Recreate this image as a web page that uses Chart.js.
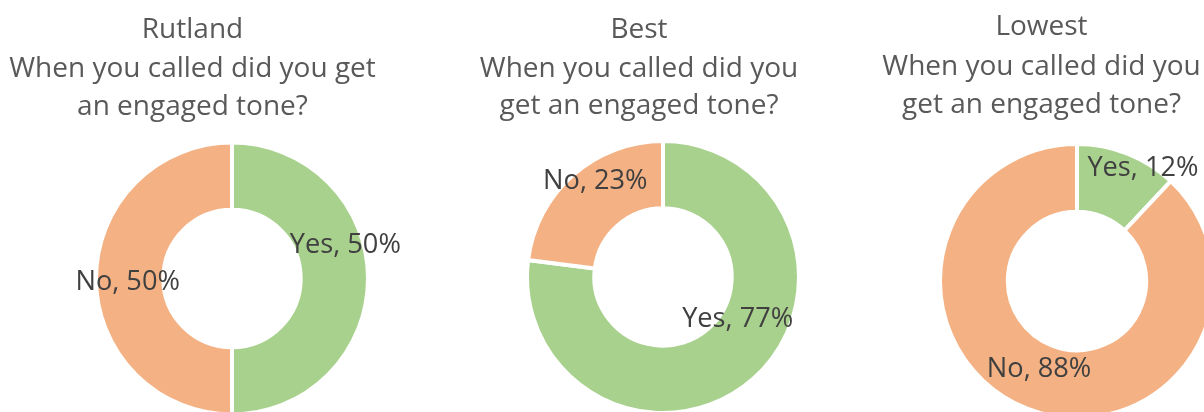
<!DOCTYPE html>
<html>
<head>
<meta charset="utf-8">
<script src="https://cdn.jsdelivr.net/npm/chart.js@4/dist/chart.umd.min.js"></script>
<style>
    html, body { margin: 0; padding: 0; background: #ffffff; }
    body { width: 1204px; height: 412px; overflow: hidden; position: relative; }
    .caja { position: absolute; top: 0; }
</style>
</head>
<body>
<div class="caja" style="left:0px"><canvas id="graficaRutland" width="440" height="417"></canvas></div>
<div class="caja" style="left:443px"><canvas id="graficaBest" width="440" height="415"></canvas></div>
<div class="caja" style="left:857px"><canvas id="graficaLowest" width="440" height="420"></canvas></div>
<script>
/* ===== DATOS ===== */
const categorias = ['Yes', 'No'];
const valoresRutland = [50, 50];
const valoresBest = [77, 23];
const valoresLowest = [12, 88];

const tituloRutland = ['Rutland', 'When you called did you get', 'an engaged tone?'];
const tituloBest = ['Best', 'When you called did you', 'get an engaged tone?'];
const tituloLowest = ['Lowest', 'When you called did you', 'get an engaged tone?'];

/* ===== ESTILOS ===== */
const coloresSegmentos = ['#a9d18e', '#f4b183'];
const fuente = '"Open Sans", Lato, sans-serif';
const tamTitulo = 28;
const tamEtiqueta = 27.2;

// desplazamiento de cada etiqueta respecto al centro del segmento
const ajusteRutland = [[11, -25.5], [-2, 11.5]];
const ajusteBest = [[7, -27], [0, -11]];
const ajusteLowest = [[28, -9], [0, 0.5]];

// titulo dibujado a mano: desplazamiento horizontal y lineas base
const pluginTitulo = {
    id: 'tituloDona',
    afterDraw(chart, args, opts) {
        const ctx = chart.ctx;
        const area = chart.chartArea;
        const x = (area.left + area.right) / 2 + opts.dx;
        ctx.save();
        ctx.font = tamTitulo + 'px ' + fuente;
        ctx.fillStyle = '#595959';
        ctx.textAlign = 'center';
        ctx.textBaseline = 'alphabetic';
        opts.lineas.forEach((linea, i) => ctx.fillText(linea, x, opts.bases[i]));
        ctx.restore();
    }
};

const pluginEtiquetas = {
    id: 'etiquetasDona',
    afterDatasetsDraw(chart, args, opts) {
        const ctx = chart.ctx;
        const meta = chart.getDatasetMeta(0);
        const valores = chart.data.datasets[0].data;
        ctx.save();
        ctx.font = tamEtiqueta + 'px ' + fuente;
        ctx.fillStyle = '#404040';
        ctx.textAlign = 'center';
        ctx.textBaseline = 'alphabetic';
        meta.data.forEach((arco, i) => {
            const pos = arco.tooltipPosition();
            const ajuste = opts.ajustes[i] || [0, 0];
            ctx.fillText(chart.data.labels[i] + ', ' + valores[i] + '%', pos.x + ajuste[0], pos.y + ajuste[1]);
        });
        ctx.restore();
    }
};

function crearDona(id, valores, titulo, padding, tituloDx, tituloBases, ajustes) {
    return new Chart(document.getElementById(id), {
        type: 'doughnut',
        data: {
            labels: categorias,
            datasets: [{
                data: valores,
                backgroundColor: coloresSegmentos,
                borderColor: '#ffffff',
                borderWidth: 4
            }]
        },
        options: {
            responsive: false,
            animation: false,
            devicePixelRatio: 1,
            cutout: '50.5%',
            layout: { padding: padding },
            plugins: {
                legend: { display: false },
                tooltip: { enabled: false },
                title: { display: false },
                tituloDona: { lineas: titulo, dx: tituloDx, bases: tituloBases },
                etiquetasDona: { ajustes: ajustes }
            }
        },
        plugins: [pluginEtiquetas, pluginTitulo]
    });
}

crearDona('graficaRutland', valoresRutland, tituloRutland,
    { left: 94, right: 70, top: 140.5, bottom: 0.5 }, -39.5, [38, 76.5, 115], ajusteRutland);
crearDona('graficaBest', valoresBest, tituloBest,
    { left: 82, right: 82, top: 139, bottom: 0 }, -24, [38, 76.5, 114], ajusteBest);
crearDona('graficaLowest', valoresLowest, tituloLowest,
    { left: 81, right: 81, top: 142, bottom: 0 }, -35.5, [35, 75, 113], ajusteLowest);
</script>
</body>
</html>
